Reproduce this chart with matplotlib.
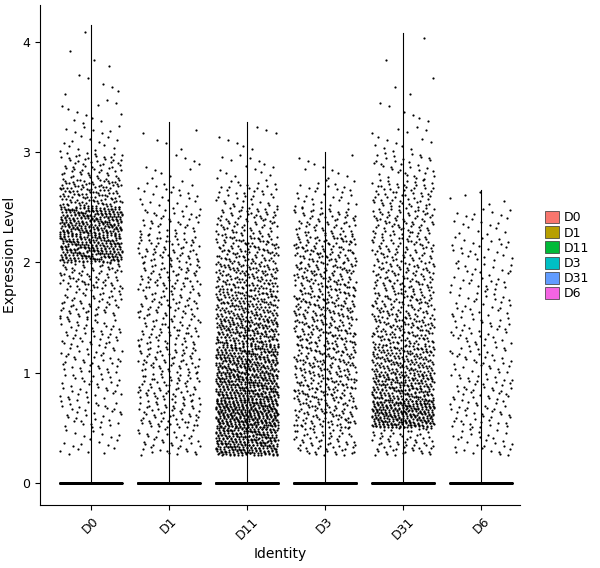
import matplotlib
matplotlib.use("Agg")
import matplotlib.pyplot as plt
import numpy as np
from matplotlib.patches import Patch

groups = ["D0", "D1", "D11", "D3", "D31", "D6"]
colors = ["#F8766D", "#B79F00", "#00BA38", "#00BFC4", "#619CFF", "#F564E3"]
vmax = [4.15, 3.27, 3.27, 3.0, 4.08, 2.65]
zero_counts = [400, 700, 800, 700, 600, 500]
bin_edges = np.arange(0, 4.5, 0.25)
counts = {
    "D0":  [0, 20, 35, 35, 40, 45, 55, 70, 250, 260, 120, 60, 20, 12, 6, 3, 2],
    "D1":  [0, 40, 60, 60, 60, 55, 55, 60, 60, 40, 25, 10, 5, 3, 0, 0, 0],
    "D11": [0, 300, 350, 300, 250, 200, 150, 120, 100, 70, 40, 15, 8, 4, 0, 0, 0],
    "D3":  [0, 60, 90, 100, 100, 100, 100, 95, 90, 60, 30, 10, 3, 0, 0, 0, 0],
    "D31": [0, 60, 300, 200, 150, 110, 90, 80, 70, 70, 60, 35, 15, 6, 3, 1, 3],
    "D6":  [0, 30, 40, 40, 35, 35, 30, 30, 25, 20, 8, 2, 0, 0, 0, 0, 0],
}

def vdc(n, base=2):
    out = np.zeros(n)
    for i in range(n):
        k, f, r = i + 1, 1.0, 0.0
        while k:
            f /= base
            r += f * (k % base)
            k //= base
        out[i] = r
    return out

fig = plt.figure(figsize=(6, 5.68), dpi=100)
ax = fig.add_axes([0.0667, 0.111, 0.8, 0.88])
gold = 0.6180339887
for gi, g in enumerate(groups):
    ys = []
    for b, c in enumerate(counts[g]):
        if c == 0:
            continue
        lo = bin_edges[b]
        ys.append(lo + 0.25 * vdc(c, 3))
    ys = np.concatenate(ys)
    ys = ys[ys <= vmax[gi]]
    ys = np.concatenate([np.zeros(zero_counts[gi]), ys])
    n = len(ys)
    xj = ((np.arange(n) * gold + 0.37 * gi) % 1.0 - 0.5) * 0.8
    ax.scatter(gi + 1 + xj, ys, s=2.5, c="black", linewidths=0, zorder=3)
    ax.plot([gi + 1, gi + 1], [0, vmax[gi]], color="black", lw=0.8, zorder=2)

ax.set_xlim(0.35, 6.5)
ax.set_ylim(-0.2, 4.33)
ax.set_xticks(range(1, 7))
ax.set_xticklabels(groups, rotation=45, fontsize=9)
ax.set_yticks([0, 1, 2, 3, 4])
ax.tick_params(labelsize=9)
for s in ["top", "right"]:
    ax.spines[s].set_visible(False)
ax.set_xlabel("Identity", fontsize=10)
ax.set_ylabel("Expression Level", fontsize=10)
handles = [Patch(facecolor=c, edgecolor="#333333", lw=0.5, label=g) for g, c in zip(groups, colors)]
fig.legend(handles=handles, loc="center left", bbox_to_anchor=(0.89, 0.55), frameon=False,
           fontsize=9, handlelength=1.1, handleheight=1.1, handletextpad=0.4, labelspacing=0.15)
fig.savefig("out.png", dpi=100)
